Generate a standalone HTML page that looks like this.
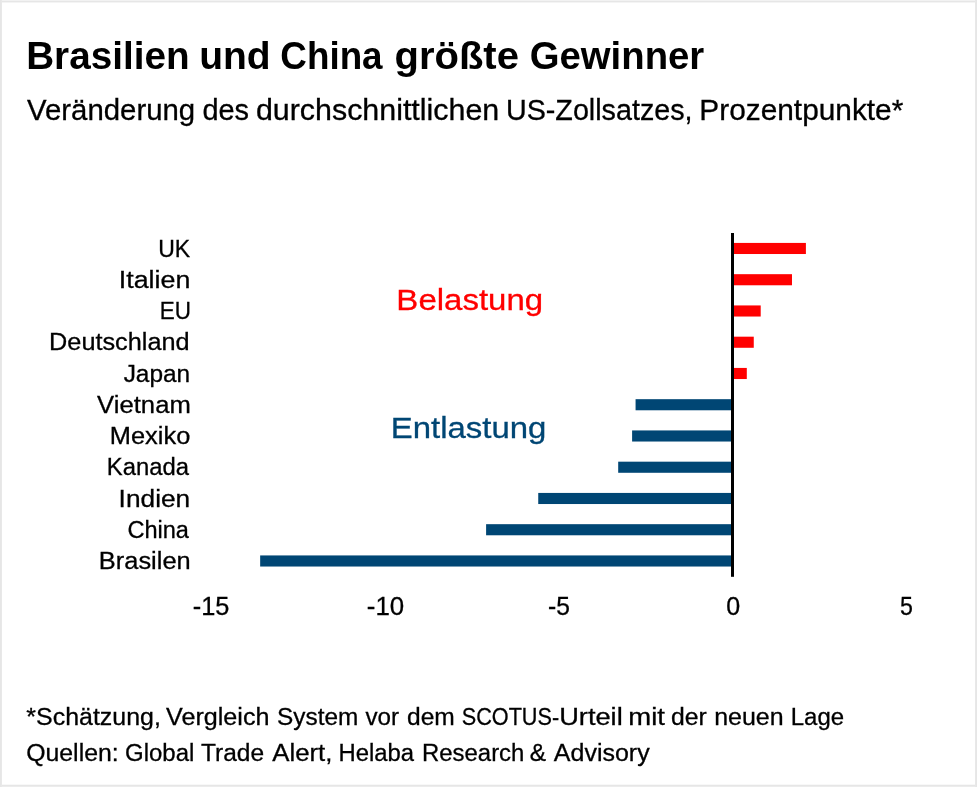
<!DOCTYPE html>
<html lang="de"><head><meta charset="utf-8"><title>Brasilien und China größte Gewinner</title>
<style>
html,body{margin:0;padding:0;background:#fff}
body{width:977px;height:787px;overflow:hidden;position:relative}
svg{position:absolute;left:0;top:0;display:block}
text{font-family:"Liberation Sans",Arial,sans-serif}
</style></head><body>
<svg width="977" height="787" viewBox="0 0 977 787">
<rect x="0" y="0" width="977" height="787" fill="#fff"/>
<rect x="0" y="0" width="977" height="1" fill="#f2f2f2"/>
<rect x="0" y="1" width="977" height="1" fill="#e6e6e6"/>
<rect x="0" y="2" width="977" height="1" fill="#f4f4f4"/>
<rect x="0" y="784" width="977" height="1" fill="#f8f8f8"/>
<rect x="0" y="785" width="977" height="1" fill="#e6e6e6"/>
<rect x="0" y="786" width="977" height="1" fill="#ececec"/>
<rect x="0" y="0" width="1" height="787" fill="#e6e6e6"/>
<rect x="1" y="0" width="1" height="787" fill="#e8e8e8"/>
<rect x="975" y="0" width="1" height="787" fill="#e8e8e8"/>
<rect x="976" y="0" width="1" height="787" fill="#e6e6e6"/>
<rect x="732.90" y="242.92" width="73.00" height="11.10" fill="#ff0000"/>
<rect x="732.90" y="274.18" width="59.09" height="11.10" fill="#ff0000"/>
<rect x="732.90" y="305.43" width="27.81" height="11.10" fill="#ff0000"/>
<rect x="732.90" y="336.68" width="20.86" height="11.10" fill="#ff0000"/>
<rect x="732.90" y="367.93" width="13.90" height="11.10" fill="#ff0000"/>
<rect x="635.57" y="399.18" width="97.33" height="11.10" fill="#004674"/>
<rect x="632.10" y="430.43" width="100.80" height="11.10" fill="#004674"/>
<rect x="618.19" y="461.68" width="114.71" height="11.10" fill="#004674"/>
<rect x="538.24" y="492.93" width="194.66" height="11.10" fill="#004674"/>
<rect x="486.10" y="524.18" width="246.80" height="11.10" fill="#004674"/>
<rect x="260.16" y="555.43" width="472.74" height="11.10" fill="#004674"/>
<rect x="731" y="233" width="3" height="343.8" fill="#000"/>
<text y="69" font-size="38.95" font-weight="bold"><tspan id="t0" x="26.18" textLength="163.39" lengthAdjust="spacingAndGlyphs">Brasilien</tspan> <tspan id="t1" x="199.19" textLength="71.50" lengthAdjust="spacingAndGlyphs">und</tspan> <tspan id="t2" x="280.36" textLength="102.22" lengthAdjust="spacingAndGlyphs">China</tspan> <tspan id="t3" x="394.51" textLength="124.44" lengthAdjust="spacingAndGlyphs">größte</tspan> <tspan id="t4" x="529.80" textLength="174.41" lengthAdjust="spacingAndGlyphs">Gewinner</tspan></text>
<text y="120" font-size="28.92" stroke="#000" stroke-width="0.3"><tspan id="t5" x="27.06" textLength="168.11" lengthAdjust="spacingAndGlyphs">Veränderung</tspan> <tspan id="t6" x="202.45" textLength="46.60" lengthAdjust="spacingAndGlyphs">des</tspan> <tspan id="t7" x="255.91" textLength="243.36" lengthAdjust="spacingAndGlyphs">durchschnittlichen</tspan> <tspan id="t8" x="505.96" textLength="186.57" lengthAdjust="spacingAndGlyphs">US-Zollsatzes,</tspan> <tspan id="t9" x="699.37" textLength="203.95" lengthAdjust="spacingAndGlyphs">Prozentpunkte*</tspan></text>
<text id="t10" x="158.14" textLength="31.97" lengthAdjust="spacingAndGlyphs" y="257" font-size="24.56" stroke="#000" stroke-width="0.3">UK</text>
<text id="t11" x="118.80" textLength="71.54" lengthAdjust="spacingAndGlyphs" y="288" font-size="24.56" stroke="#000" stroke-width="0.3">Italien</text>
<text id="t12" x="159.82" textLength="31.21" lengthAdjust="spacingAndGlyphs" y="319" font-size="24.56" stroke="#000" stroke-width="0.3">EU</text>
<text id="t13" x="49.10" textLength="140.48" lengthAdjust="spacingAndGlyphs" y="350" font-size="24.56" stroke="#000" stroke-width="0.3">Deutschland</text>
<text id="t14" x="123.66" textLength="66.54" lengthAdjust="spacingAndGlyphs" y="382" font-size="24.56" stroke="#000" stroke-width="0.3">Japan</text>
<text id="t15" x="97.11" textLength="93.67" lengthAdjust="spacingAndGlyphs" y="413" font-size="24.56" stroke="#000" stroke-width="0.3">Vietnam</text>
<text id="t16" x="109.87" textLength="80.42" lengthAdjust="spacingAndGlyphs" y="444" font-size="24.56" stroke="#000" stroke-width="0.3">Mexiko</text>
<text id="t17" x="106.77" textLength="82.19" lengthAdjust="spacingAndGlyphs" y="475" font-size="24.56" stroke="#000" stroke-width="0.3">Kanada</text>
<text id="t18" x="118.64" textLength="71.61" lengthAdjust="spacingAndGlyphs" y="507" font-size="24.56" stroke="#000" stroke-width="0.3">Indien</text>
<text id="t19" x="127.39" textLength="61.56" lengthAdjust="spacingAndGlyphs" y="538" font-size="24.56" stroke="#000" stroke-width="0.3">China</text>
<text id="t20" x="98.86" textLength="91.78" lengthAdjust="spacingAndGlyphs" y="569" font-size="24.56" stroke="#000" stroke-width="0.3">Brasilen</text>
<text id="t21" x="192.73" textLength="36.68" lengthAdjust="spacingAndGlyphs" y="615" font-size="25.73" stroke="#000" stroke-width="0.3">-15</text>
<text id="t22" x="366.87" textLength="37.35" lengthAdjust="spacingAndGlyphs" y="615" font-size="25.73" stroke="#000" stroke-width="0.3">-10</text>
<text id="t23" x="547.98" textLength="21.90" lengthAdjust="spacingAndGlyphs" y="615" font-size="25.73" stroke="#000" stroke-width="0.3">-5</text>
<text id="t24" x="726.19" textLength="13.94" lengthAdjust="spacingAndGlyphs" y="615" font-size="25.73" stroke="#000" stroke-width="0.3">0</text>
<text id="t25" x="899.97" textLength="12.92" lengthAdjust="spacingAndGlyphs" y="615" font-size="25.73" stroke="#000" stroke-width="0.3">5</text>
<text id="t26" x="396.38" textLength="146.73" lengthAdjust="spacingAndGlyphs" y="310" font-size="30.38" fill="#ff0000" stroke="#ff0000" stroke-width="0.3">Belastung</text>
<text id="t27" x="390.80" textLength="155.61" lengthAdjust="spacingAndGlyphs" y="438" font-size="30.38" fill="#004674" stroke="#004674" stroke-width="0.3">Entlastung</text>
<text y="725" font-size="24.56" stroke="#000" stroke-width="0.3"><tspan id="t28" x="26.39" textLength="134.44" lengthAdjust="spacingAndGlyphs">*Schätzung,</tspan> <tspan id="t29" x="166.08" textLength="103.40" lengthAdjust="spacingAndGlyphs">Vergleich</tspan> <tspan id="t30" x="277.09" textLength="81.19" lengthAdjust="spacingAndGlyphs">System</tspan> <tspan id="t31" x="365.45" textLength="33.58" lengthAdjust="spacingAndGlyphs">vor</tspan> <tspan id="t32" x="407.00" textLength="47.82" lengthAdjust="spacingAndGlyphs">dem</tspan> <tspan id="t33" x="461.73" textLength="97.43" lengthAdjust="spacingAndGlyphs">SCOTUS-</tspan><tspan id="t34" x="559.19" textLength="63.51" lengthAdjust="spacingAndGlyphs">Urteil</tspan> <tspan id="t35" x="628.25" textLength="36.73" lengthAdjust="spacingAndGlyphs">mit</tspan> <tspan id="t36" x="670.92" textLength="35.75" lengthAdjust="spacingAndGlyphs">der</tspan> <tspan id="t37" x="714.21" textLength="69.39" lengthAdjust="spacingAndGlyphs">neuen</tspan> <tspan id="t38" x="790.72" textLength="53.32" lengthAdjust="spacingAndGlyphs">Lage</tspan></text>
<text y="761" font-size="24.56" stroke="#000" stroke-width="0.3"><tspan id="t39" x="26.18" textLength="92.52" lengthAdjust="spacingAndGlyphs">Quellen:</tspan> <tspan id="t40" x="125.10" textLength="69.22" lengthAdjust="spacingAndGlyphs">Global</tspan> <tspan id="t41" x="200.96" textLength="63.09" lengthAdjust="spacingAndGlyphs">Trade</tspan> <tspan id="t42" x="272.26" textLength="60.16" lengthAdjust="spacingAndGlyphs">Alert,</tspan> <tspan id="t43" x="338.44" textLength="75.52" lengthAdjust="spacingAndGlyphs">Helaba</tspan> <tspan id="t44" x="422.04" textLength="102.31" lengthAdjust="spacingAndGlyphs">Research</tspan> <tspan id="t45" x="529.77" textLength="16.35" lengthAdjust="spacingAndGlyphs">&amp;</tspan> <tspan id="t46" x="553.83" textLength="95.81" lengthAdjust="spacingAndGlyphs">Advisory</tspan></text>
</svg>
</body></html>
